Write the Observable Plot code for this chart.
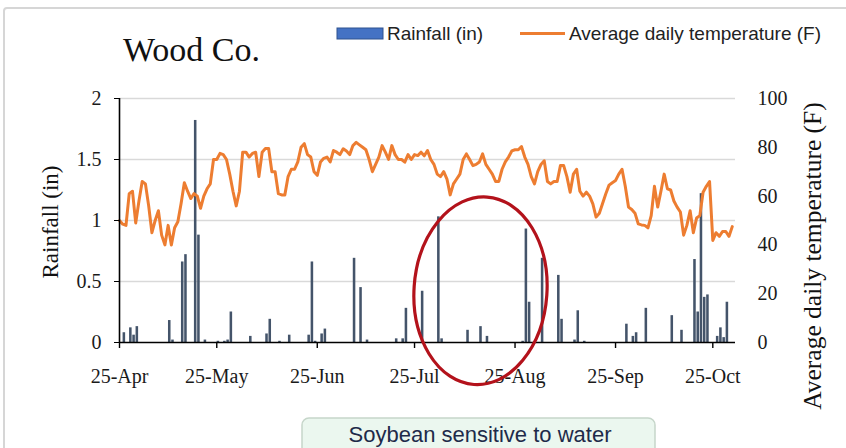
<!DOCTYPE html>
<html>
<head>
<meta charset="utf-8">
<script src="https://cdn.jsdelivr.net/npm/d3@7"></script>
<script src="https://cdn.jsdelivr.net/npm/@observablehq/plot@0.6"></script>
<style>
  html, body { margin: 0; padding: 0; background: #fff; }
  #wrap { position: relative; width: 846px; height: 448px; overflow: hidden; background: #fff; }
  #frame { position: absolute; left: 3px; top: 7px; width: 900px; height: 500px; border: 2px solid #d6d6d6; border-radius: 4px; box-sizing: border-box; }
  #chart { position: absolute; left: 0; top: 0; }
</style>
</head>
<body>
<div id="wrap">
  <div id="frame"></div>
  <div id="chart"></div>
</div>
<script>
// ---- data ----
const startDate = "2019-04-25";
const endDate = "2019-11-01";
const tickDates = ["2019-04-25", "2019-05-25", "2019-06-25", "2019-07-25", "2019-08-25", "2019-09-25", "2019-10-25"];
const leftTicks = [0, 0.5, 1, 1.5, 2];
const rightTicks = [0, 20, 40, 60, 80, 100];

// rainfall: days since 25-Apr and inches
const rainDay = [1,3,4,5,15,16,19,20,23,24,26,30,32,33,34,40,45,46,49,52,58,59,60,62,63,72,74,76,85,87,88,93,98,99,107,111,113,124,125,126,130,135,136,140,141,143,156,158,159,162,170,173,177,178,179,180,181,184,185,186,187];
const rainIn  = [0.08,0.12,0.06,0.13,0.18,0.02,0.66,0.72,1.82,0.88,0.02,0.01,0.01,0.02,0.25,0.05,0.07,0.19,0.01,0.06,0.06,0.66,0.01,0.07,0.11,0.69,0.45,0.02,0.03,0.03,0.28,0.42,1.03,0.03,0.10,0.13,0.05,0.01,0.93,0.33,0.69,0.55,0.19,0.02,0.26,0.01,0.15,0.05,0.08,0.28,0.22,0.10,0.68,0.25,1.22,0.37,0.39,0.05,0.12,0.04,0.33];

// average daily temperature (F), one value per day from 25-Apr
const tempF = [
  50,48.5,48,61,62,49,58,66,65,56,
  45,50,54,44,40,48,40,47,49.5,57,
  65.5,62,59,61,60,55,60,63,65,75,
  75,77.5,77,75,69,62,56,62,78,78,
  76,77.5,78,68,78,79.5,79.5,70,70,61,
  60.5,60.5,68,71,71,74,80,81.5,77,76,
  70,68.5,74,75.5,76,74,78.7,78,77,79.4,
  78.5,77,80.7,82,81,80,79,75,70,73,
  76,80.7,78,75,80.7,77,75,75,73.9,77,
  75,77,76.6,78,76.5,78.7,75,73,69,68,
  70,67,60.5,65,67,69,75,77.3,75,72.5,
  73,74,77.3,73,71,69,66,66,71,74,
  76,78.5,79,79,80.3,76,73,68,65,70,
  73,74.5,66,65,66,66,72.5,72.5,68,61.6,
  69,71,62,60,61.6,60,56.8,51.4,53,57,
  61,64.5,65.5,66.4,69,71,64,55.5,54.5,53,
  48.6,48.2,48,47,52,64,55.5,62,69,63,
  62.5,58,55.5,53.5,44,48,54,45,51,52,
  61.6,64,66,41.8,45,43.5,45.5,45.5,43.5,47.5
];

// annotation ellipse (in data units)
const ellipseFrom = "2019-07-25";
const ellipseTo = "2019-09-04";
const ellipseTop = 1.19;
const ellipseBottom = -0.35;

// ---- build ----
const t0 = new Date(startDate + "T00:00:00Z");
const t1 = new Date(endDate + "T00:00:00Z");
const rain = rainDay.map((d, i) => ({date: d3.utcDay.offset(t0, d), rain: rainIn[i]}));
const temp = tempF.map((v, i) => ({date: d3.utcDay.offset(t0, i), t: v}));
const ticks = tickDates.map(s => new Date(s + "T00:00:00Z"));

const chart = Plot.plot({
  width: 846,
  height: 448,
  marginLeft: 119,
  marginRight: 111,
  marginTop: 98,
  marginBottom: 106,
  style: {fontFamily: "'Liberation Serif', serif", fontSize: "20px", color: "#1a1a1a", background: "transparent", overflow: "visible"},
  x: {type: "utc", domain: [t0, t1]},
  y: {domain: [0, 2]},
  marks: [
    Plot.gridY(leftTicks.slice(1), {stroke: "#d9d9d9", strokeOpacity: 1, strokeWidth: 1.4}),
    Plot.rectY(rain, {x: "date", interval: "day", y: "rain", fill: "#44546a", insetLeft: 0.35, insetRight: 0.35}),
    Plot.line(temp, {x: "date", y: d => d.t / 50, stroke: "#ed7d31", strokeWidth: 3, strokeLinejoin: "round"}),
    Plot.ruleY([0], {stroke: "#000", strokeWidth: 1.6}),
    Plot.ruleX([t0], {stroke: "#000", strokeWidth: 1.6}),
    Plot.axisX({ticks: ticks, tickFormat: d3.utcFormat("%d-%b"), tickSize: 6, tickPadding: 20, label: null, stroke: "#000", strokeWidth: 1.4}),
    Plot.axisY({ticks: leftTicks, tickFormat: d => String(d), tickSize: 5, tickPadding: 13, label: null, stroke: "#000"}),
    Plot.axisY({anchor: "right", ticks: rightTicks.map(v => v / 50), tickFormat: d => String(Math.round(d * 50)), tickSize: 0, tickPadding: 22, label: null})
  ]
});

document.getElementById("chart").appendChild(chart);

const svg = d3.select(chart);
const sx = chart.scale("x");
const sy = chart.scale("y");

// ellipse annotation
const ex1 = sx.apply(new Date(ellipseFrom + "T00:00:00Z"));
const ex2 = sx.apply(new Date(ellipseTo + "T00:00:00Z"));
const ey1 = sy.apply(ellipseTop);
const ey2 = sy.apply(ellipseBottom);
const ecx = (ex1 + ex2) / 2, ecy = (ey1 + ey2) / 2;
svg.append("ellipse")
  .attr("cx", ecx).attr("cy", ecy)
  .attr("rx", (ex2 - ex1) / 2).attr("ry", (ey2 - ey1) / 2)
  .attr("transform", `rotate(4 ${ecx} ${ecy})`)
  .attr("fill", "none").attr("stroke", "#b3121b").attr("stroke-width", 3.2);

// title
svg.append("text").attr("x", 123).attr("y", 61).attr("text-anchor", "start")
  .attr("font-family", "'Liberation Serif', serif").attr("font-size", 34).attr("fill", "#111")
  .text("Wood Co.");

// legend
svg.append("rect").attr("x", 337).attr("y", 28).attr("width", 46).attr("height", 11)
  .attr("fill", "#4472c4").attr("stroke", "#2f528f").attr("stroke-width", 1);
svg.append("text").attr("x", 387).attr("y", 39.5).attr("text-anchor", "start")
  .attr("font-family", "'Liberation Sans', sans-serif").attr("font-size", 19).attr("fill", "#222")
  .text("Rainfall (in)");
svg.append("line").attr("x1", 520).attr("x2", 565).attr("y1", 33.5).attr("y2", 33.5)
  .attr("stroke", "#ed7d31").attr("stroke-width", 3);
svg.append("text").attr("x", 569).attr("y", 39.5).attr("text-anchor", "start")
  .attr("font-family", "'Liberation Sans', sans-serif").attr("font-size", 19).attr("fill", "#222")
  .text("Average daily temperature (F)");

// axis titles
svg.append("text").attr("transform", "translate(58,222) rotate(-90)")
  .attr("text-anchor", "middle")
  .attr("font-family", "'Liberation Serif', serif").attr("font-size", 23).attr("fill", "#111")
  .text("Rainfall (in)");
svg.append("text").attr("transform", "translate(821,256) rotate(-90)")
  .attr("text-anchor", "middle")
  .attr("font-family", "'Liberation Serif', serif").attr("font-size", 25.5).attr("fill", "#111")
  .text("Average daily temperature (F)");

// callout box at bottom
svg.append("rect").attr("x", 302).attr("y", 418).attr("width", 353).attr("height", 60).attr("rx", 7)
  .attr("fill", "#ebf7ef").attr("stroke", "#c6d6ca").attr("stroke-width", 1.5);
svg.append("text").attr("x", 480).attr("y", 442).attr("text-anchor", "middle")
  .attr("font-family", "'Liberation Sans', sans-serif").attr("font-size", 22).attr("fill", "#1e2b4a")
  .text("Soybean sensitive to water");
</script>
</body>
</html>
